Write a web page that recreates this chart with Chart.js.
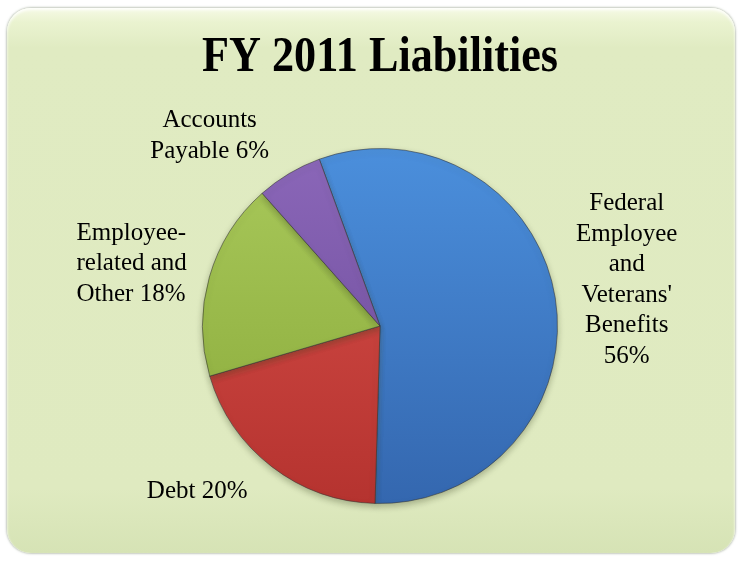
<!DOCTYPE html>
<html>
<head>
<meta charset="utf-8">
<script src="https://cdn.jsdelivr.net/npm/chart.js@4"></script>
<style>
  html, body { margin: 0; padding: 0; background: #fff; }
  #wrap { position: relative; width: 741px; height: 561px; }
  #panel {
    position: absolute; left: 7px; top: 8px; width: 728px; height: 545px;
    border-radius: 24px;
    background: linear-gradient(to bottom, #f6fae6 0px, #eaf3d0 14px, #e0ebc2 40px, #dfeac0 480px, #d6e3b5 545px);
    box-shadow: 0 0 2px 1px rgba(150,160,140,0.55), inset 0 2px 3px rgba(255,255,255,0.9);
  }
  canvas { position: absolute; left: 0; top: 0; }
</style>
</head>
<body>
<div id="wrap">
  <div id="panel"></div>
  <canvas id="pie" width="741" height="561"></canvas>
</div>
<script>
const categories = ["Federal Employee and Veterans' Benefits", "Debt", "Employee-related and Other", "Accounts Payable"];
const shares = [56, 20, 18, 6];
const labelLines = [
  ["Federal", "Employee", "and", "Veterans'", "Benefits", "56%"],
  ["Debt 20%"],
  ["Employee-", "related and", "Other 18%"],
  ["Accounts", "Payable 6%"]
];
const topColors = ["#4b8fdc", "#d9504b", "#a9c95b", "#8b67b9"];
const bottomColors = ["#3467af", "#b5332f", "#88a838", "#694895"];

// label anchor relative to pie centre, in radius units, plus text alignment
const labelPlace = [
  { x: 1.39, y: -0.26, align: "center" },
  { x: -1.03, y: 0.93, align: "center" },
  { x: -1.71, y: -0.35, align: "left" },
  { x: -0.96, y: -1.07, align: "center" }
];

const serif = "'Liberation Serif', 'Times New Roman', serif";

const sliceLabels = {
  id: "sliceLabels",
  beforeDatasetsDraw(chart) {
    const ctx = chart.ctx;
    ctx.save();
    ctx.shadowColor = "rgba(60,70,40,0.35)";
    ctx.shadowBlur = 6;
    ctx.shadowOffsetY = 3;
  },
  afterDatasetsDraw(chart) {
    const ctx = chart.ctx;
    ctx.restore();
    const arcs = chart.getDatasetMeta(0).data;
    const lh = 30.5;
    ctx.save();
    ctx.fillStyle = "#000";
    ctx.font = "25px " + serif;
    ctx.textBaseline = "middle";
    arcs.forEach((arc, i) => {
      const r = arc.outerRadius;
      const p = labelPlace[i];
      const ax = arc.x + p.x * r;
      const ay = arc.y + p.y * r;
      const lines = labelLines[i];
      ctx.textAlign = p.align;
      lines.forEach((t, k) => {
        ctx.fillText(t, ax, ay + (k - (lines.length - 1) / 2) * lh);
      });
    });
    ctx.restore();
  }
};

new Chart(document.getElementById("pie"), {
  type: "pie",
  data: {
    labels: categories,
    datasets: [{
      data: shares,
      backgroundColor: (c) => {
        const area = c.chart.chartArea;
        if (!area) return topColors[c.dataIndex];
        const g = c.chart.ctx.createLinearGradient(0, area.top, 0, area.bottom);
        g.addColorStop(0, topColors[c.dataIndex]);
        g.addColorStop(1, bottomColors[c.dataIndex]);
        return g;
      },
      borderColor: "rgba(50,50,50,0.55)",
      borderWidth: 1
    }]
  },
  options: {
    responsive: false,
    animation: false,
    rotation: -20,
    layout: { padding: { left: 202, right: 183, top: 0, bottom: 57 } },
    plugins: {
      legend: { display: false },
      tooltip: { enabled: false },
      title: {
        display: true,
        text: "FY 2011 Liabilities",
        color: "#000",
        font: { family: serif, size: 50, weight: "bold" },
        padding: { top: 28, bottom: 60 }
      }
    }
  },
  plugins: [sliceLabels]
});
</script>
</body>
</html>
